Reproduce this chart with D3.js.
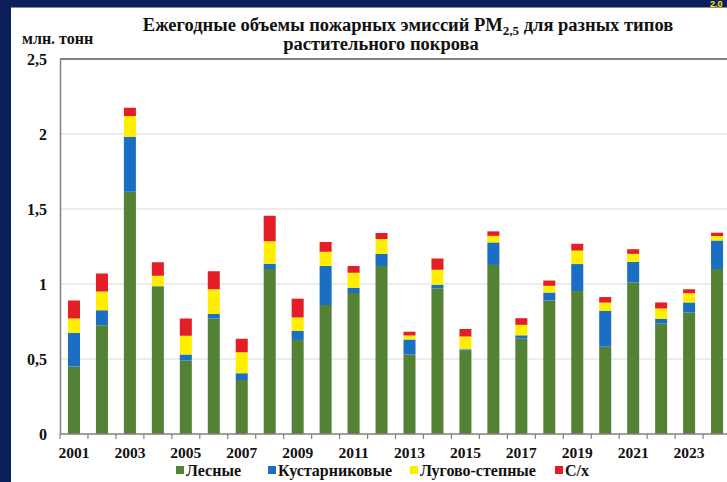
<!DOCTYPE html>
<html><head><meta charset="utf-8">
<script src="https://cdn.jsdelivr.net/npm/d3@7/dist/d3.min.js"></script>
<style>body{margin:0;background:#fff;overflow:hidden}svg{display:block}</style>
</head><body>
<svg id="c" width="727" height="482"></svg>
<script>
const years = ["2001","2002","2003","2004","2005","2006","2007","2008","2009","2010","2011","2012","2013","2014","2015","2016","2017","2018","2019","2020","2021","2022","2023","2024"];
const forest = [0.45,0.725,1.615,0.98,0.49,0.77,0.36,1.10,0.627,0.86,0.94,1.12,0.53,0.97,0.555,1.127,0.636,0.89,0.953,0.582,1.01,0.736,0.81,1.10];
const shrub  = [0.225,0.10,0.365,0.005,0.04,0.03,0.045,0.035,0.06,0.26,0.035,0.08,0.10,0.025,0.01,0.15,0.022,0.053,0.18,0.238,0.138,0.031,0.067,0.19];
const steppe = [0.095,0.125,0.14,0.07,0.125,0.165,0.14,0.15,0.09,0.095,0.10,0.10,0.027,0.10,0.085,0.044,0.07,0.045,0.09,0.056,0.053,0.07,0.062,0.03];
const agri   = [0.12,0.12,0.055,0.09,0.115,0.12,0.09,0.17,0.125,0.065,0.045,0.04,0.025,0.075,0.05,0.03,0.044,0.035,0.045,0.037,0.031,0.04,0.026,0.022];
const seriesNames = ["Лесные","Кустарниковые","Лугово-степные","С/х"];
const yTicks = [0,0.5,1,1.5,2,2.5];
const yTickLabels = ["0","0,5","1","1,5","2","2,5"];
const xLabelYears = ["2001","2003","2005","2007","2009","2011","2013","2015","2017","2019","2021","2023"];

const colors = ["#548235","#1a6fc4","#ffee00","#e31e26"];
const svg = d3.select("#c");
const serif = "'Liberation Serif','Times New Roman',serif";

// background frame (navy border)
svg.append("rect").attr("x",0).attr("y",0).attr("width",727).attr("height",482).attr("fill","#0b1f5c");
svg.append("rect").attr("x",11).attr("y",7).attr("width",716).attr("height",475).attr("fill","#ffffff");
svg.append("line").attr("x1",11).attr("x2",727).attr("y1",7.5).attr("y2",7.5).attr("stroke","#8a8a8a").attr("stroke-width",1);
svg.append("text").attr("x",710).attr("y",7).attr("fill","#ffee00").attr("font-family","Arial, sans-serif").attr("font-weight","bold").attr("font-size",9).text("2.0");

const x0 = 60, y0 = 434, yTop = 59;
const step = 27.96;
const x = d3.scaleBand().domain(years).range([x0, x0 + step*years.length]).paddingInner(0.57).paddingOuter(0.285);
const y = d3.scaleLinear().domain([0,2.5]).range([y0, yTop]);

// grid
svg.append("g").selectAll("line").data(yTicks.filter(v=>v>0 && v<2.5)).join("line")
  .attr("x1",x0).attr("x2",727).attr("y1",d=>y(d)).attr("y2",d=>y(d))
  .attr("stroke","#d9d9d9").attr("stroke-width",1);
// top frame
svg.append("line").attr("x1",x0).attr("x2",727).attr("y1",y(2.5)).attr("y2",y(2.5)).attr("stroke","#808080").attr("stroke-width",2);

// stacked bars
const table = years.map((yr,i)=>({year:yr, s0:forest[i], s1:shrub[i], s2:steppe[i], s3:agri[i]}));
const stack = d3.stack().keys(["s0","s1","s2","s3"])(table);
svg.append("g").selectAll("g").data(stack).join("g").attr("fill",(d,i)=>colors[i])
  .selectAll("rect").data(d=>d).join("rect")
  .attr("x",d=>x(d.data.year)).attr("width",x.bandwidth())
  .attr("y",d=>y(d[1])).attr("height",d=>Math.max(0,y(d[0])-y(d[1])));

// axes
const yAxis = d3.axisLeft(y).tickValues(yTicks).tickSize(0).tickFormat((d,i)=>yTickLabels[i]);
const gy = svg.append("g").attr("transform",`translate(${x0},0)`).call(yAxis);
gy.select(".domain").attr("stroke","#808080").attr("stroke-width",1.5);
gy.selectAll("text").attr("x",-13).attr("dy","0.32em").attr("font-family",serif).attr("font-weight","bold").attr("font-size",16).attr("fill","#111");

const gx = svg.append("g").attr("transform",`translate(0,${y0})`);
gx.append("line").attr("x1",x0).attr("x2",727).attr("stroke","#808080").attr("stroke-width",1.5);
const bounds = d3.range(years.length+1).map(i=>x0+i*step);
gx.selectAll("line.t").data(bounds).join("line").attr("class","t")
  .attr("x1",d=>d).attr("x2",d=>d).attr("y1",0).attr("y2",5).attr("stroke","#808080").attr("stroke-width",1.2);
gx.selectAll("text").data(xLabelYears).join("text")
  .attr("x",d=>x(d)+x.bandwidth()/2).attr("y",24).attr("text-anchor","middle")
  .attr("font-family",serif).attr("font-weight","bold").attr("font-size",15.5).attr("fill","#111").text(d=>d);

// titles
const t1 = svg.append("text").attr("x",408).attr("y",31).attr("text-anchor","middle")
  .attr("font-family",serif).attr("font-weight","bold").attr("font-size",18.5).attr("fill","#111");
t1.append("tspan").text("Ежегодные объемы пожарных эмиссий  PM");
t1.append("tspan").attr("font-size",13).attr("dy",4).text("2,5");
t1.append("tspan").attr("dy",-4).text(" для разных типов");
svg.append("text").attr("x",381).attr("y",50).attr("text-anchor","middle")
  .attr("font-family",serif).attr("font-weight","bold").attr("font-size",18.5).attr("fill","#111").text("растительного покрова");
svg.append("text").attr("x",22).attr("y",44)
  .attr("font-family",serif).attr("font-weight","bold").attr("font-size",16).attr("fill","#111").text("млн. тонн");

// legend
const legX = [176,268,410,555];
const lg = svg.append("g").selectAll("g").data(seriesNames).join("g")
  .attr("transform",(d,i)=>`translate(${legX[i]},476)`);
lg.append("rect").attr("x",0).attr("y",-10).attr("width",8).attr("height",8).attr("fill",(d,i)=>colors[i]);
lg.append("text").attr("x",10).attr("y",0).attr("font-family",serif).attr("font-weight","bold").attr("font-size",16).attr("fill","#111").text(d=>d);
</script>
</body></html>
